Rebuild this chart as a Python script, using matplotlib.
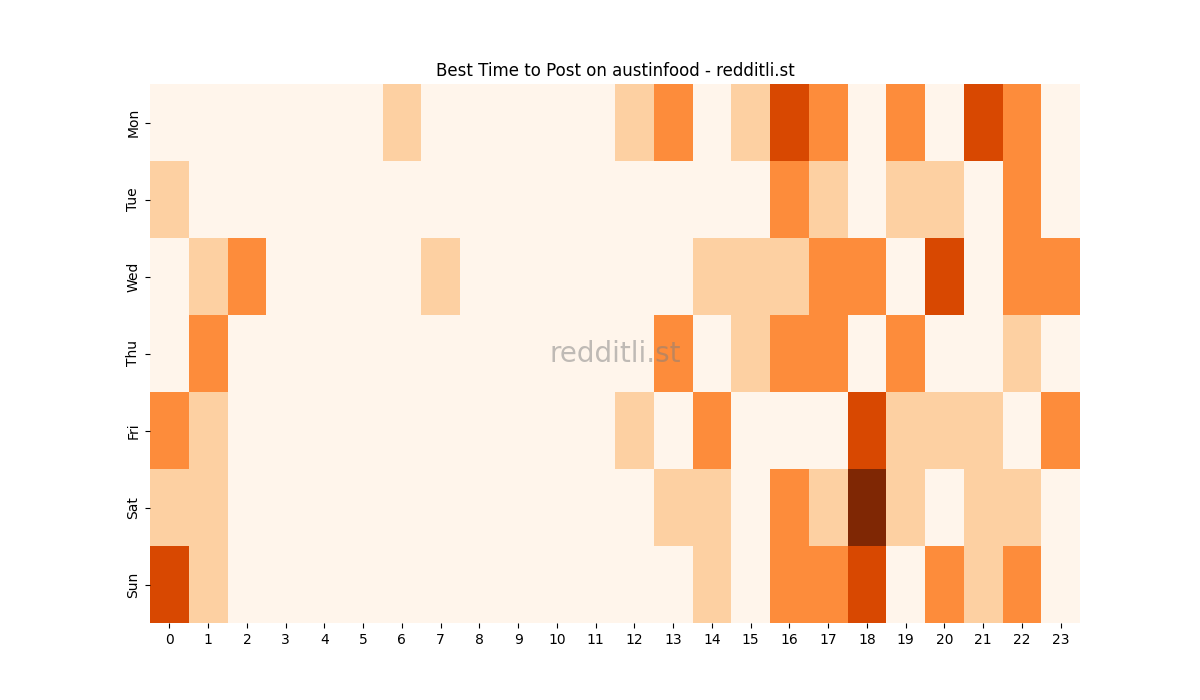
import numpy as np
import matplotlib
matplotlib.use("Agg")
import matplotlib.pyplot as plt
import seaborn as sns

days = ["Mon", "Tue", "Wed", "Thu", "Fri", "Sat", "Sun"]
hours = list(range(24))

# posts per day/hour
mon = [0, 0, 0, 0, 0, 0, 1, 0, 0, 0, 0, 0, 1, 2, 0, 1, 3, 2, 0, 2, 0, 3, 2, 0]
tue = [1, 0, 0, 0, 0, 0, 0, 0, 0, 0, 0, 0, 0, 0, 0, 0, 2, 1, 0, 1, 1, 0, 2, 0]
wed = [0, 1, 2, 0, 0, 0, 0, 1, 0, 0, 0, 0, 0, 0, 1, 1, 1, 2, 2, 0, 3, 0, 2, 2]
thu = [0, 2, 0, 0, 0, 0, 0, 0, 0, 0, 0, 0, 0, 2, 0, 1, 2, 2, 0, 2, 0, 0, 1, 0]
fri = [2, 1, 0, 0, 0, 0, 0, 0, 0, 0, 0, 0, 1, 0, 2, 0, 0, 0, 3, 1, 1, 1, 0, 2]
sat = [1, 1, 0, 0, 0, 0, 0, 0, 0, 0, 0, 0, 0, 1, 1, 0, 2, 1, 4, 1, 0, 1, 1, 0]
sun = [3, 1, 0, 0, 0, 0, 0, 0, 0, 0, 0, 0, 0, 0, 1, 0, 2, 2, 3, 0, 2, 1, 2, 0]

grid = np.array([mon, tue, wed, thu, fri, sat, sun])

fig = plt.figure(figsize=(12, 7), dpi=100)
ax = sns.heatmap(grid, cmap="Oranges", cbar=False, xticklabels=hours, yticklabels=days)
ax.set_title("Best Time to Post on austinfood - redditli.st")

# watermark
ax.text(0.5, 0.5, "redditli.st", transform=ax.transAxes, fontsize=20,
        color="gray", alpha=0.5, ha="center", va="center")

plt.savefig("out.png")
